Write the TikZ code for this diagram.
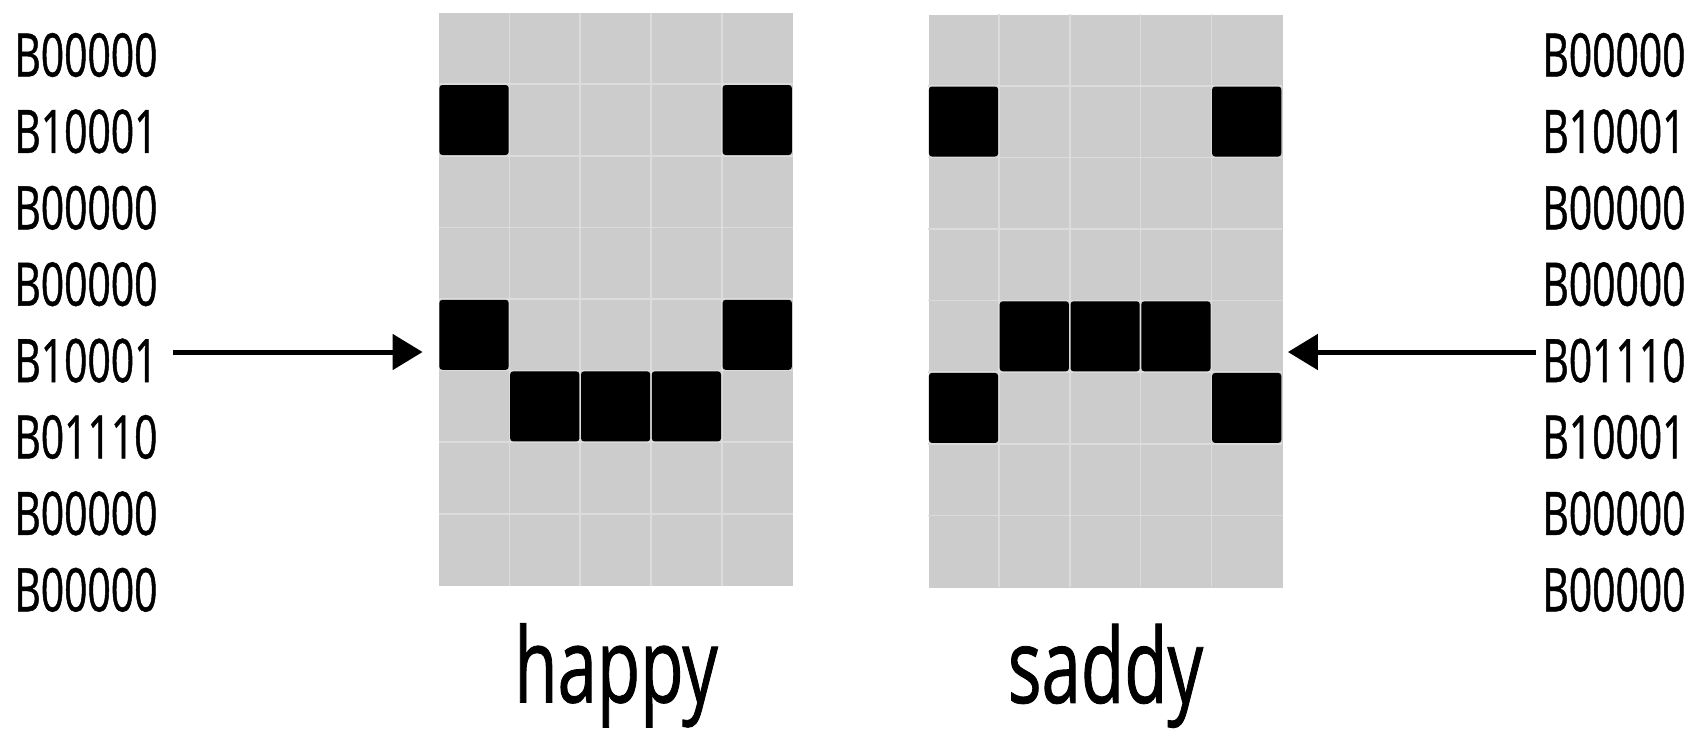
\documentclass[tikz,border=0pt]{standalone}
\usepackage{fontspec}
\setmainfont[FakeStretch=0.68, FakeBold=0.8]{Open Sans}
\usetikzlibrary{arrows.meta}
\definecolor{cellGrey}{RGB}{204,204,204}
\definecolor{lineGrey}{RGB}{220,220,220}

\begin{document}
\begin{tikzpicture}[x=0.5pt, y=-0.5pt,
    codelab/.style={anchor=west, inner sep=0pt, font=\fontsize{30}{30}\selectfont},
    facelab/.style={anchor=base, inner sep=0pt, font=\fontsize{52}{52}\selectfont},
    facegrid/.style={fill=cellGrey, minimum width=177pt, minimum height=286.5pt, inner sep=0pt},
    pixel/.style={fill=black, rounded corners=1.5pt},
    arr/.style={line width=2.5pt, -{Triangle[length=15pt, width=17.5pt]}}]
  \useasboundingbox (0,0) rectangle (1695,729);
  \node[facegrid] (hgrid) at (616,299.5) {};
  \node[facegrid] (sgrid) at (1105.5,301) {};
  % cell lines and black pixels
  \foreach \g/\cells in {hgrid/{1/0,1/4,4/0,4/4,5/1,5/2,5/3},
                         sgrid/{1/0,1/4,4/1,4/2,4/3,5/0,5/4}} {
    \begin{scope}[shift={(\g.north west)}]
      \foreach \i in {1,...,4}
        \draw[lineGrey, line width=0.8pt] (\i*70.8,0) -- (\i*70.8,573);
      \foreach \j in {1,...,7}
        \draw[lineGrey, line width=0.8pt] (0,\j*71.6) -- (354,\j*71.6);
      \foreach \r/\c in \cells
        \fill[pixel] (\c*70.8+0.8,\r*71.6+0.8) rectangle (\c*70.8+70,\r*71.6+70.8);
    \end{scope}
  }
  % codes
  \foreach \t [count=\i from 0] in {B00000,B10001,B00000,B00000,B10001,B01110,B00000,B00000}
    \node[codelab] (l\i) at (14,55+76.4*\i) {\t};
  \foreach \t [count=\i from 0] in {B00000,B10001,B00000,B00000,B01110,B10001,B00000,B00000}
    \node[codelab] (r\i) at (1542,55+76.4*\i) {\t};
  \node[facelab] (happy) at ([yshift=-58pt]hgrid.south) {happy};
  \node[facelab] (saddy) at ([yshift=-57.5pt]sgrid.south) {saddy};
  \draw[arr] ([xshift=7.5pt, yshift=4.3pt]l4.east) -- ([xshift=-8pt, yshift=4.3pt]l4.east -| hgrid.west);
  \draw[arr] ([xshift=-3pt, yshift=4.3pt]r4.west) -- ([xshift=2.5pt, yshift=4.3pt]r4.west -| sgrid.east);
\end{tikzpicture}
\end{document}
